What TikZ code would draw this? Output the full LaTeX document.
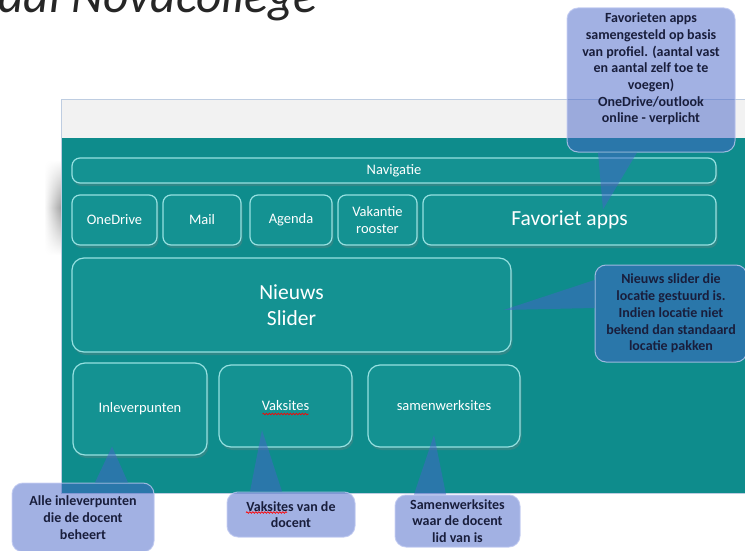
\documentclass[tikz,border=0pt]{standalone}
\usepackage{fontspec}
\setmainfont{Carlito}
\usetikzlibrary{calc,shadows,fadings,decorations.pathmorphing}

\definecolor{tealbg}{RGB}{14,140,140}
\definecolor{knopvul}{RGB}{20,146,146}
\definecolor{knoprand}{RGB}{150,225,225}
\definecolor{blauw}{RGB}{70,100,200}
\definecolor{blauwrand}{RGB}{190,200,240}
\definecolor{inkt}{RGB}{25,30,60}
\definecolor{grijs}{RGB}{242,242,242}
\definecolor{venster}{RGB}{190,205,225}

\newcommand{\groot}{\fontsize{21.5}{26}\selectfont}
\tikzfading[name=zacht, top color=transparent!100, bottom color=transparent!100, middle color=transparent!20]

\begin{document}
\begin{tikzpicture}[x=1pt, y=-1pt,
  knop/.style={rectangle, rounded corners=8pt, draw=knoprand, line width=1.2pt, fill=knopvul, text=white, align=center, inner sep=0pt, font=\fontsize{14.5}{17}\selectfont, drop shadow={shadow xshift=1.5pt, shadow yshift=-3pt, opacity=0.3}},
  fumetto/.style={rectangle, rounded corners=11pt, fill=blauw, fill opacity=0.5, draw=blauwrand, draw opacity=0.8, line width=1pt, text=inkt, text opacity=1, align=center, inner sep=0pt, font=\bfseries\fontsize{14}{16.7}\selectfont},
  coda/.style={fill=blauw, fill opacity=0.5},
  golf/.style={draw=red, decorate, decoration={snake, amplitude=0.8pt, segment length=3pt}, line width=0.7pt}]

\useasboundingbox (0,0) rectangle (745,551);
\clip (0,0) rectangle (745,551);

\node[anchor=base west, inner sep=0pt, text=black!85, font=\itshape\fontsize{49.5}{55}\selectfont] (titel) at (-2,13) {aal Novacollege};

% Finestra
\shade[left color=white, right color=black!45, path fading=zacht] (44,160) rectangle (61,255);
\fill[grijs] (61,100) rectangle (760,138);
\fill[tealbg] (61,138) rectangle (760,493);
\draw[venster, line width=1pt] (61,100) rectangle (760,493);

% Pulsanti
\node[knop, minimum width=644pt, minimum height=25pt] (nav) at (394,170.5) {Navigatie};
\node[knop, minimum width=85pt, minimum height=50pt] (onedrive) at (114.5,220) {OneDrive};
\node[knop, minimum width=78pt, minimum height=50pt] (mail) at (202,220) {Mail};
\node[knop, minimum width=82pt, minimum height=50pt] (agenda) at (291,220) {Agenda};
\node[knop, minimum width=79pt, minimum height=50pt] (vakantie) at (377.5,220) {Vakantie\\rooster};
\node[knop, minimum width=293pt, minimum height=50pt, font=\groot] (favoriet) at (569.5,220) {Favoriet apps};
\node[knop, minimum width=439pt, minimum height=94pt, rounded corners=12pt, font=\groot] (nieuws) at (291.5,305) {Nieuws\\Slider};
\node[knop, minimum width=134pt, minimum height=92pt, rounded corners=12pt] (inlever) at (140,409) {Inleverpunten};
\node[knop, minimum width=133pt, minimum height=82pt, rounded corners=12pt] (vaksites) at (285.5,406) {Vaksites};
\node[knop, minimum width=152pt, minimum height=82pt, rounded corners=12pt] (samen) at (444,406) {samenwerksites};
\draw[golf] ($(vaksites.center)+(-23,8)$) -- ($(vaksites.center)+(23,8)$);

% Fumetti
\node[fumetto, minimum width=168pt, minimum height=144pt] (ffav) at (651,80) {};
\node[fumetto, draw=none, fill=none] (ffavtekst) at ($(ffav.center)+(0,-11)$) {Favorieten apps\\samengesteld op basis\\van profiel. (aantal vast\\en aantal zelf toe te\\voegen)\\OneDrive/outlook\\online - verplicht};
\fill[coda] ($(ffav.south)+(-53,0)$) -- ($(favoriet.north)+(33.5,15)$) -- ($(ffav.south)+(-14,0)$) -- cycle;

\node[fumetto, minimum width=152pt, minimum height=97pt] (fnieuws) at (671,313.5) {Nieuws slider die\\locatie gestuurd is.\\Indien locatie niet\\bekend dan standaard\\locatie pakken};
\fill[coda] ($(fnieuws.west)+(0,-33.5)$) -- ($(nieuws.east)+(-8,5)$) -- ($(fnieuws.west)+(0,-5.5)$) -- cycle;

\node[fumetto, minimum width=142pt, minimum height=69pt] (finl) at (83,517.5) {Alle inleverpunten\\die de docent\\beheert};
\fill[coda] ($(finl.north)+(12,0)$) -- ($(inlever.south)+(-28,-9)$) -- ($(finl.north)+(45,0)$) -- cycle;

\node[fumetto, minimum width=128pt, minimum height=45pt] (fvak) at (291,514.5) {Vaksites van de\\docent};
\fill[coda] ($(fvak.north)+(-41,0)$) -- ($(vaksites.center)+(-23.5,24)$) -- ($(fvak.north)+(-9,0)$) -- cycle;
\draw[golf] ($(fvak.center)+(-45,-2)$) -- ($(fvak.center)+(-4,-2)$);

\node[fumetto, minimum width=125pt, minimum height=52pt] (fsam) at (457.5,521) {Samenwerksites\\waar de docent\\lid van is};
\fill[coda] ($(fsam.north)+(-43.5,0)$) -- ($(samen.center)+(-10,29)$) -- ($(fsam.north)+(-11.5,0)$) -- cycle;

\end{tikzpicture}
\end{document}
